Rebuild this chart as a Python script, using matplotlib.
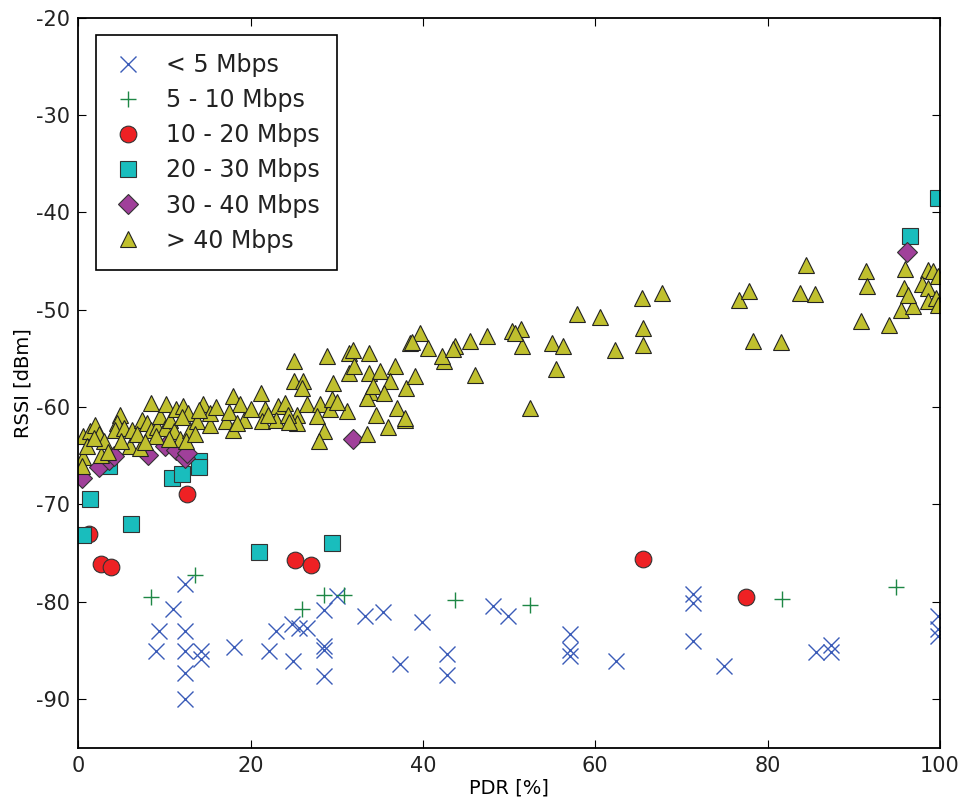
import matplotlib
matplotlib.use("Agg")
import matplotlib.pyplot as plt

# < 5 Mbps
lt5_pdr = [12.4, 11.0, 9.4, 12.4, 9.0, 12.4, 14.2, 14.2, 12.4, 12.4, 18.1, 22.1, 23.0, 24.8,
           25.6, 26.6, 24.9, 28.5, 28.5, 28.5, 28.5, 30.0, 33.3, 35.4, 37.4, 39.9, 42.8, 42.8,
           48.1, 49.9, 57.1, 57.1, 57.1, 62.4, 71.3, 71.3, 71.3, 74.9, 85.6, 87.4, 87.4,
           99.8, 99.8, 99.8]
lt5_rssi = [-78.2, -80.7, -83.0, -83.0, -85.1, -85.1, -85.1, -85.9, -87.3, -90.0, -84.6, -85.1,
            -83.0, -82.3, -82.7, -82.7, -86.1, -80.8, -84.5, -85.0, -87.6, -79.4, -81.5, -81.0,
            -86.4, -82.1, -85.4, -87.5, -80.4, -81.5, -83.3, -84.9, -85.6, -86.1, -79.2, -80.1,
            -84.0, -86.6, -85.2, -84.4, -85.2, -81.5, -82.8, -83.5]

# 5 - 10 Mbps
m5_10_pdr = [8.5, 13.6, 26.0, 28.5, 30.8, 43.7, 52.4, 81.7, 94.9]
m5_10_rssi = [-79.5, -77.2, -80.7, -79.3, -79.3, -79.8, -80.3, -79.7, -78.5]

# 10 - 20 Mbps
m10_20_pdr = [1.2, 2.6, 3.8, 12.6, 25.2, 27.0, 65.5, 77.5]
m10_20_rssi = [-73.0, -76.1, -76.4, -68.9, -75.7, -76.2, -75.6, -79.5]

# 20 - 30 Mbps
m20_30_pdr = [1.4, 0.6, 6.1, 10.9, 12.1, 14.0, 14.0, 3.6, 21.0, 29.4, 96.5, 99.8]
m20_30_rssi = [-69.4, -73.1, -72.0, -67.3, -66.9, -65.5, -66.2, -66.0, -74.9, -74.0, -42.4, -38.5]

# 30 - 40 Mbps
m30_40_pdr = [0.5, 2.4, 3.6, 4.2, 8.1, 10.1, 11.4, 12.4, 12.6, 31.9, 96.2]
m30_40_rssi = [-67.3, -66.2, -65.4, -65.0, -64.9, -64.0, -64.4, -65.2, -64.7, -63.3, -44.1]

# > 40 Mbps
gt40_pdr = [0.6, 0.6, 0.5, 1.4, 2.0, 2.4, 2.7, 4.8, 4.5, 4.3, 5.3, 6.2, 6.0, 7.2, 7.4, 8.0,
            8.5, 8.4, 9.2, 9.5, 10.2, 10.1, 10.7, 11.1, 11.8, 11.4, 12.2, 12.8, 13.0, 13.8,
            14.5, 15.3, 15.3, 17.1, 18.0, 18.8, 18.0, 19.2,
            1.0, 3.0, 5.0, 6.8, 9.0, 12.5, 13.5, 16.0, 17.5, 14.0, 1.8, 3.5, 7.8, 10.5, 12.0,
            25.0, 28.9, 25.0, 26.1, 31.4, 31.9, 33.8, 38.5, 31.4, 29.6, 33.8, 35.0, 36.8, 36.2,
            38.1, 39.1, 33.9, 33.5, 21.2, 21.7, 23.2, 24.0, 25.4, 26.5, 28.1, 29.2, 31.2,
            27.7, 25.4, 28.5, 27.9, 33.5, 34.6, 36.0, 37.0, 37.9, 18.4, 21.3, 22.9, 24.4, 20.0,
            29.5, 30.0, 26.0, 24.5, 22.0, 32.0, 34.2, 35.5,
            39.7, 38.7, 40.6, 42.4, 43.7, 45.5, 47.5, 50.3, 51.4, 51.5, 46.1, 55.0, 56.3,
            55.5, 52.4, 57.9, 37.9, 42.2, 43.5, 50.7,
            84.5, 65.4, 67.7, 76.7, 77.9, 83.8, 85.5, 91.4, 91.5, 96.0, 95.8, 98.6, 99.2,
            97.9, 98.6, 95.5, 96.9, 98.6, 99.6, 90.9, 94.1, 60.6, 62.3, 65.5, 65.6, 78.3,
            81.6, 99.8, 99.8, 96.3]
gt40_rssi = [-63.0, -65.1, -66.0, -62.5, -61.8, -62.8, -64.9, -60.8, -61.6, -62.3, -62.1, -62.3,
             -64.0, -64.2, -61.3, -61.6, -59.6, -62.3, -62.0, -60.9, -59.7, -62.1, -61.3, -62.5,
             -63.3, -60.2, -59.9, -60.6, -62.3, -61.4, -59.7, -61.8, -60.6, -61.4, -58.9, -59.7,
             -62.4, -61.3,
             -64.0, -63.5, -63.5, -62.8, -63.0, -63.5, -62.8, -60.0, -60.5, -60.3, -63.2, -64.6,
             -63.6, -63.3, -61.0,
             -55.3, -54.8, -57.3, -57.3, -54.4, -54.1, -54.4, -53.4, -56.5, -57.5, -56.5, -56.3,
             -55.8, -57.3, -58.0, -56.8, -58.4, -59.1, -58.5, -60.2, -59.9, -59.6, -60.8, -59.7,
             -59.7, -60.2, -60.4, -60.9, -61.6, -62.5, -63.5, -62.8, -60.8, -62.0, -60.1, -61.3,
             -61.6, -61.4, -61.3, -60.8, -60.2,
             -59.2, -59.5, -58.0, -61.5, -60.8, -55.8, -57.8, -58.5,
             -52.4, -53.3, -53.9, -55.3, -53.7, -53.2, -52.7, -52.2, -52.0, -53.7, -56.7, -53.4,
             -53.7, -56.1, -60.1, -50.4, -61.1, -54.8, -54.0, -52.4,
             -45.4, -48.8, -48.3, -49.0, -48.1, -48.3, -48.4, -46.0, -47.6, -45.8, -47.8, -45.9,
             -46.0, -47.4, -47.8, -50.0, -49.6, -49.1, -48.8, -51.2, -51.6, -50.7, -54.1, -51.9,
             -53.6, -53.2, -53.3, -46.5, -49.5, -48.5]

plt.rcParams['axes.unicode_minus'] = False
plt.rcParams['xtick.direction'] = 'in'
plt.rcParams['ytick.direction'] = 'in'
plt.rcParams['text.color'] = '#222222'

fig = plt.figure(figsize=(9.65, 8.05), dpi=100)
ax = fig.add_axes([0.081, 0.071, 0.893, 0.907])

ax.plot(lt5_pdr, lt5_rssi, 'x', color='#3b5cb8', markersize=12, markeredgewidth=1.0,
        label='< 5 Mbps')
ax.plot(m5_10_pdr, m5_10_rssi, '+', color='#1e8745', markersize=12, markeredgewidth=1.0,
        label='5 - 10 Mbps')
ax.plot(m10_20_pdr, m10_20_rssi, 'o', color='#ee2124', markeredgecolor='#333333',
        markersize=12, markeredgewidth=0.8, label='10 - 20 Mbps')
ax.plot(m20_30_pdr, m20_30_rssi, 's', color='#19bdbd', markeredgecolor='#333333',
        markersize=12, markeredgewidth=0.8, label='20 - 30 Mbps')
ax.plot(m30_40_pdr, m30_40_rssi, 'D', color='#a0409a', markeredgecolor='#333333',
        markersize=10.5, markeredgewidth=0.8, label='30 - 40 Mbps')
ax.plot(gt40_pdr, gt40_rssi, '^', color='#c0c02e', markeredgecolor='#222222',
        markersize=12, markeredgewidth=0.8, label='> 40 Mbps')

ax.set_xlim(0, 100)
ax.set_ylim(-95, -20)
ax.set_xticks([0, 20, 40, 60, 80, 100])
ax.set_yticks([-90, -80, -70, -60, -50, -40, -30, -20])
ax.tick_params(labelsize=15, length=6, top=True, right=True, pad=6, labelcolor='#222222')
for s in ax.spines.values():
    s.set_linewidth(1.3)
ax.set_xlabel('PDR [%]', fontsize=14, labelpad=2)
ax.set_ylabel('RSSI [dBm]', fontsize=14, labelpad=2)

leg = ax.legend(loc='upper left', numpoints=1, fontsize=17, fancybox=False,
                framealpha=1, edgecolor='black', borderaxespad=0.75,
                labelspacing=0.47, handlelength=1.2, handletextpad=1.0, borderpad=0.75)
leg.get_frame().set_linewidth(1.2)

fig.savefig('out.png', dpi=100)
